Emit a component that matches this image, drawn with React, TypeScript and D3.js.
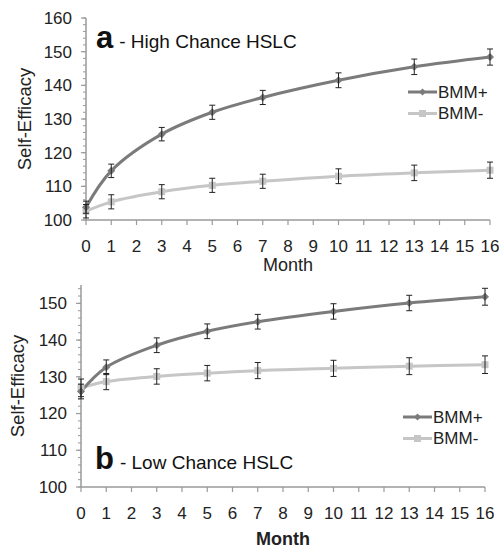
import React from 'react';
import * as d3 from 'd3';

// data
const months = [0, 1, 3, 5, 7, 10, 13, 16];
const xTicks = [0, 1, 2, 3, 4, 5, 6, 7, 8, 9, 10, 11, 12, 13, 14, 15, 16];
const seriesNames = ['BMM+', 'BMM-'];

const highPlus = [103.8, 114.6, 125.5, 132, 136.4, 141.5, 145.5, 148.4];
const highPlusErr = [1.8, 2, 2, 2.1, 2.1, 2.2, 2.3, 2.4];
const highMinus = [102.6, 105.4, 108.4, 110.3, 111.5, 113, 114, 114.8];
const highMinusErr = [2, 2.1, 2.1, 2.1, 2.1, 2.2, 2.3, 2.4];
const highYTicks = [100, 110, 120, 130, 140, 150, 160];

const lowPlus = [126, 132.6, 138.6, 142.4, 145, 147.8, 150.1, 151.8];
const lowPlusErr = [2, 2, 2, 2, 2, 2.1, 2.1, 2.3];
const lowMinus = [127, 128.7, 130.1, 131, 131.7, 132.3, 132.9, 133.3];
const lowMinusErr = [2.4, 2.2, 2.1, 2.1, 2.2, 2.2, 2.3, 2.4];
const lowYTicks = [100, 110, 120, 130, 140, 150];

const FONT = '"Liberation Sans", Arial, Helvetica, sans-serif';
const DARK = '#7b7b7b';
const LIGHT = '#c6c6c6';
const AXIS = '#9a9a9a';

type PanelProps = {
  x0: number; x1: number; yTop: number; yBottom: number;
  yMax: number; yTicks: number[];
  plus: number[]; plusErr: number[]; minus: number[]; minusErr: number[];
  letter: string; title: string; titleX: number; titleY: number;
  legendX: number; legendY: number;
  yLabelX: number; monthY: number; monthBold: boolean;
};

const Panel = (p: PanelProps) => {
  const x = d3.scaleLinear().domain([0, 16]).range([p.x0, p.x1]);
  const y = d3.scaleLinear().domain([100, p.yMax]).range([p.yBottom, p.yTop]);
  const line = d3.line<number>()
    .x((_, i) => x(months[i]))
    .y(d => y(d))
    .curve(d3.curveCatmullRom.alpha(0.5));
  const minor = d3.range(100, p.yMax + 0.01, 2);

  const errBars = (vals: number[], errs: number[]) =>
    vals.map((v, i) => {
      const cx = x(months[i]);
      const top = y(v + errs[i]);
      const bot = y(v - errs[i]);
      return (
        <g key={i} stroke="#222" strokeWidth={1}>
          <line x1={cx} x2={cx} y1={top} y2={bot} />
          <line x1={cx - 3} x2={cx + 3} y1={top} y2={top} />
          <line x1={cx - 3} x2={cx + 3} y1={bot} y2={bot} />
        </g>
      );
    });

  const diamond = (cx: number, cy: number, s: number) =>
    `M${cx},${cy - s}L${cx + s},${cy}L${cx},${cy + s}L${cx - s},${cy}Z`;

  return (
    <g fontFamily={FONT}>
      {/* y axis */}
      <line x1={p.x0} x2={p.x0} y1={p.yTop} y2={p.yBottom} stroke={AXIS} strokeWidth={1.5} />
      {minor.map(t => (
        <line key={'m' + t} x1={p.x0 - 3} x2={p.x0} y1={y(t)} y2={y(t)} stroke={AXIS} strokeWidth={1} />
      ))}
      {p.yTicks.map(t => (
        <g key={'y' + t}>
          <line x1={p.x0 - 5} x2={p.x0} y1={y(t)} y2={y(t)} stroke={AXIS} strokeWidth={1.2} />
          <text x={p.x0 - 14} y={y(t)} dy="0.35em" textAnchor="end" fontSize={17} fill="#222">{t}</text>
        </g>
      ))}
      {/* x axis */}
      <line x1={p.x0} x2={p.x1} y1={p.yBottom} y2={p.yBottom} stroke={AXIS} strokeWidth={1.5} />
      {xTicks.map(t => (
        <g key={'x' + t}>
          <line x1={x(t)} x2={x(t)} y1={p.yBottom} y2={p.yBottom + 5} stroke={AXIS} strokeWidth={1.2} />
          <text x={x(t)} y={p.yBottom + 26} dy="0.35em" textAnchor="middle" fontSize={17} fill="#222">{t}</text>
        </g>
      ))}
      <text x={(p.x0 + p.x1) / 2} y={p.monthY} dy="0.35em" textAnchor="middle" fontSize={18}
        fontWeight={p.monthBold ? 'bold' : 'normal'} fill="#222">Month</text>
      <text transform={`translate(${p.yLabelX},${(p.yTop + p.yBottom) / 2}) rotate(-90)`} dy="0.35em"
        textAnchor="middle" fontSize={18.5} fill="#222">Self-Efficacy</text>

      {/* title */}
      <text x={p.titleX} y={p.titleY} fill="#111">
        <tspan fontSize={31} fontWeight="bold">{p.letter}</tspan>
        <tspan fontSize={19} dx={6}>{p.title}</tspan>
      </text>

      {/* lines */}
      <path d={line(p.minus) || ''} fill="none" stroke={LIGHT} strokeWidth={3} />
      <path d={line(p.plus) || ''} fill="none" stroke={DARK} strokeWidth={3} />
      {p.minus.map((v, i) => (
        <rect key={'s' + i} x={x(months[i]) - 3.5} y={y(v) - 3.5} width={7} height={7} fill={LIGHT} />
      ))}
      {p.plus.map((v, i) => (
        <path key={'d' + i} d={diamond(x(months[i]), y(v), 4)} fill={DARK} />
      ))}
      {errBars(p.minus, p.minusErr)}
      {errBars(p.plus, p.plusErr)}

      {/* legend */}
      {seriesNames.map((name, i) => {
        const ly = p.legendY + i * 21.5;
        const lx = p.legendX;
        return (
          <g key={name}>
            <line x1={lx} x2={lx + 29} y1={ly} y2={ly} stroke={i === 0 ? DARK : LIGHT} strokeWidth={3} />
            {i === 0
              ? <path d={diamond(lx + 14.5, ly, 3.5)} fill={DARK} />
              : <rect x={lx + 11} y={ly - 3.5} width={7} height={7} fill={LIGHT} />}
            <text x={lx + 30} y={ly} dy="0.35em" fontSize={17} fill="#222">{name}</text>
          </g>
        );
      })}
    </g>
  );
};

export default function App() {
  return (
    <svg width={504} height={551} style={{ position: 'absolute', left: 0, top: 0, background: '#fff' }}>
      <rect width={504} height={551} fill="#fff" />
      <Panel x0={86} x1={490} yTop={18} yBottom={220} yMax={160} yTicks={highYTicks}
        plus={highPlus} plusErr={highPlusErr} minus={highMinus} minusErr={highMinusErr}
        letter="a" title="- High Chance HSLC" titleX={96} titleY={48}
        legendX={408} legendY={92} yLabelX={25} monthY={265} monthBold={false} />
      <Panel x0={81} x1={485} yTop={285} yBottom={487} yMax={155} yTicks={lowYTicks}
        plus={lowPlus} plusErr={lowPlusErr} minus={lowMinus} minusErr={lowMinusErr}
        letter="b" title="- Low Chance HSLC" titleX={95} titleY={469}
        legendX={403} legendY={417} yLabelX={18} monthY={539} monthBold={true} />
    </svg>
  );
}
